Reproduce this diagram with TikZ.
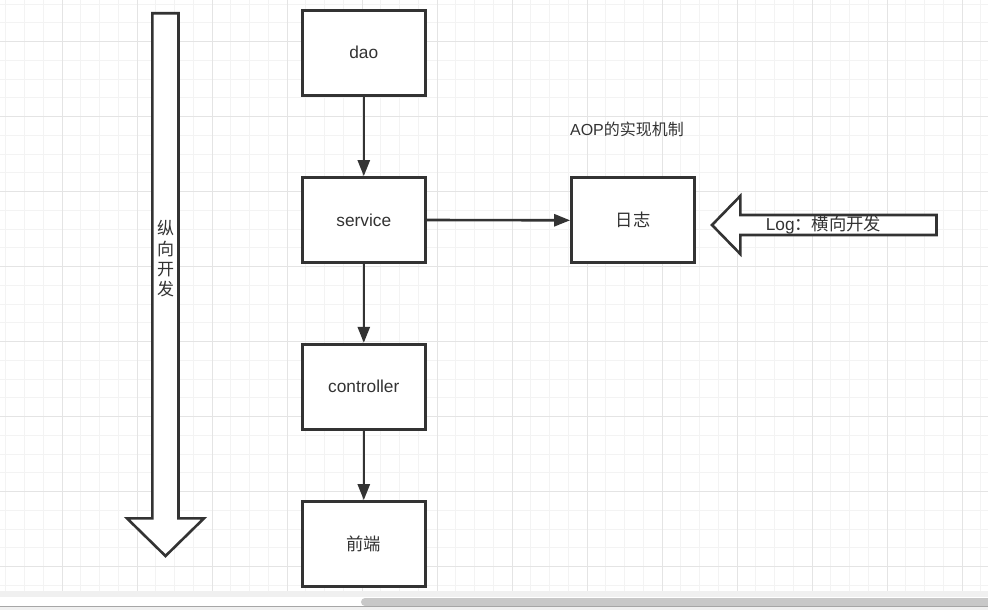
\documentclass[tikz,border=0pt]{standalone}
\usepackage{fontspec}
\setmainfont{Liberation Sans}
\newfontfamily\cjk{Noto Sans CJK SC}
\usetikzlibrary{arrows.meta}
\definecolor{ink}{HTML}{333333}
\definecolor{gridminor}{HTML}{F3F3F3}
\definecolor{gridmajor}{HTML}{E4E4E4}
\definecolor{barbg}{HTML}{F0F0F0}
\definecolor{thumb}{HTML}{C8C8C8}
\begin{document}
\begin{tikzpicture}[x=1pt,y=-1pt,
  box/.style={draw=ink,line width=2.7pt,fill=white,minimum width=123pt,minimum height=85pt,inner sep=0pt,text=ink,font=\fontsize{17.3}{20}\selectfont},
  conn/.style={draw=ink,line width=2.6pt,-{Triangle[length=16pt,width=12pt]}},
  blockarrow/.style={draw=ink,line width=2.6pt,fill=white,line join=miter},
  label/.style={inner sep=0pt,text=ink}]
\useasboundingbox (0,0) rectangle (988,610);
\fill[white] (0,0) rectangle (988,610);
% grid
\foreach \k in {0,...,52}{
  \pgfmathsetmacro{\gx}{5.75+18.75*\k}
  \pgfmathtruncatemacro{\m}{mod(\k,4)}
  \ifnum\m=3\else\draw[gridminor,line width=1pt] (\gx,0) -- (\gx,591);\fi}
\foreach \k in {0,...,31}{
  \pgfmathsetmacro{\gy}{4.2+18.75*\k}
  \pgfmathtruncatemacro{\m}{mod(\k,4)}
  \ifnum\m=2\else\draw[gridminor,line width=1pt] (0,\gy) -- (988,\gy);\fi}
\foreach \k in {0,...,52}{
  \pgfmathsetmacro{\gx}{5.75+18.75*\k}
  \pgfmathtruncatemacro{\m}{mod(\k,4)}
  \ifnum\m=3\draw[gridmajor,line width=1pt] (\gx,0) -- (\gx,591);\fi}
\foreach \k in {0,...,31}{
  \pgfmathsetmacro{\gy}{4.2+18.75*\k}
  \pgfmathtruncatemacro{\m}{mod(\k,4)}
  \ifnum\m=2\draw[gridmajor,line width=1pt] (0,\gy) -- (988,\gy);\fi}
% bottom scrollbar area
\fill[barbg] (0,591) rectangle (988,597);
\fill[white] (0,597) rectangle (988,606);
\fill[thumb,rounded corners=4pt] (361,598) rectangle (995,606);
\fill[barbg] (0,606) rectangle (988,610);
\draw[gray!70,line width=1pt] (0,606.5) -- (988,606.5);
% vertical block arrow
\draw[blockarrow] (152.3,13.3) -- (178.5,13.3) -- (178.5,518.3) -- (204,518.3) -- (165.5,556) -- (127,518.3) -- (152.3,518.3) -- cycle;
\node[label,align=center,font=\cjk\fontsize{17}{20.3}\selectfont] (vtext) at (165.5,259) {纵\\向\\开\\发};
% horizontal block arrow
\draw[blockarrow] (936.5,215) -- (740.3,215) -- (740.3,196) -- (712,225) -- (740.3,254) -- (740.3,235) -- (936.5,235) -- cycle;
\node[label,font=\fontsize{17.3}{20}\selectfont] (htext) at (823.5,225) {Log{\cjk ：横向开发}};
% boxes
\node[box] (dao) at (363.8,52.8) {dao};
\node[box] (service) at (363.8,220) {service};
\node[box] (controller) at (363.8,386.7) {controller};
\node[box] (front) at (363.8,544) {\cjk 前端};
\node[box] (log) at (633,220.3) {\cjk 日志};
\node[label,font=\fontsize{16}{19}\selectfont] (aop) at (627,129.5) {AOP{\cjk 的实现机制}};
% connectors
\draw[conn] (dao) -- (service);
\draw[conn] (service) -- (controller);
\draw[conn] (controller) -- (front);
\draw[conn] (service.east) -- (log.west);
\end{tikzpicture}
\end{document}
